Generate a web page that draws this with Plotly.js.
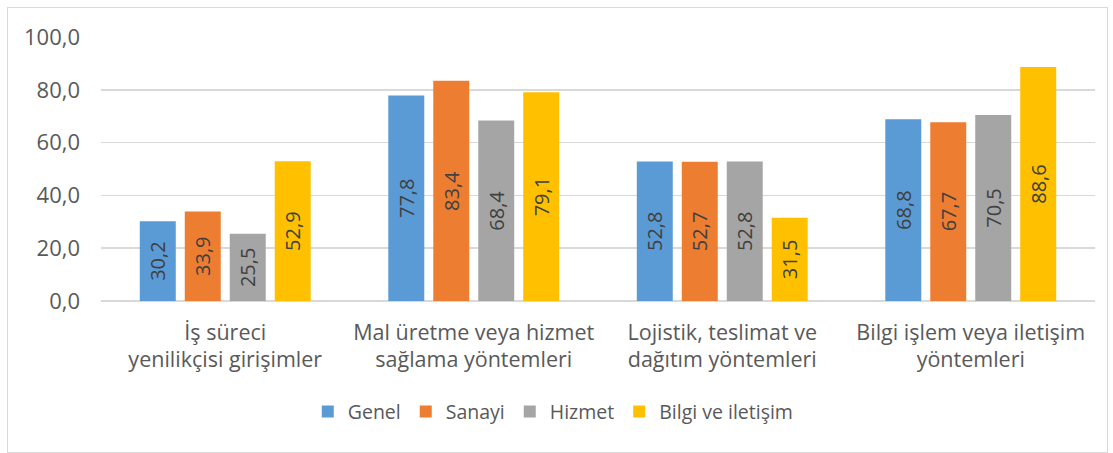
<!DOCTYPE html>
<html>
<head>
<meta charset="utf-8">
<script src="https://cdn.plot.ly/plotly-3.0.1.min.js"></script>
<style>
html,body{margin:0;padding:0;background:#fff;}
#wrap{position:relative;width:1113px;height:453px;}
#chart{position:absolute;left:0;top:0;width:1113px;height:453px;}
#border{position:absolute;left:7px;top:7px;width:1099px;height:444px;border:1px solid #d9d9d9;pointer-events:none;}
</style>
</head>
<body>
<div id="wrap"><div id="chart"></div><div id="border"></div></div>
<script>
var categories = ["İş süreci<br>yenilikçisi girişimler", "Mal üretme veya hizmet<br>sağlama yöntemleri", "Lojistik, teslimat ve<br>dağıtım yöntemleri", "Bilgi işlem veya iletişim<br>yöntemleri"];
var seriesNames = ["Genel", "Sanayi", "Hizmet", "Bilgi ve iletişim"];
var genel = [30.2, 77.8, 52.8, 68.8];
var sanayi = [33.9, 83.4, 52.7, 67.7];
var hizmet = [25.5, 68.4, 52.8, 70.5];
var bilgi = [52.9, 79.1, 31.5, 88.6];
var colors = ["#5B9BD5", "#ED7D31", "#A5A5A5", "#FFC000"];
var values = [genel, sanayi, hizmet, bilgi];

var FONT = "Open Sans, sans-serif";
var traces = values.map(function(v, i){
  return {
    type: "bar", x: categories, y: v, name: seriesNames[i],
    marker: {color: colors[i]},
    texttemplate: "%{y:.1f}", textposition: "inside", textangle: -90,
    insidetextanchor: "middle", constraintext: "none",
    textfont: {family: FONT, size: 20, color: "#404040"},
    hoverinfo: "skip"
  };
});

var layout = {
  width: 1113, height: 453,
  margin: {l: 101, r: 18, t: 37, b: 152},
  separators: ",.",
  barmode: "group", bargap: 0.276, bargroupgap: 0.2,
  paper_bgcolor: "#fff", plot_bgcolor: "#fff",
  font: {family: FONT, size: 20, color: "#595959"},
  xaxis: {tickfont: {family: FONT, size: 21.5, color: "#595959"}, showline: false, ticks: "",
          ticklabelstandoff: 16, automargin: false},
  yaxis: {range: [0, 100], dtick: 20, tickformat: ".1f", gridcolor: "#d9d9d9", gridwidth: 1.5,
          zeroline: true, zerolinecolor: "#d9d9d9", zerolinewidth: 1.5, showline: false,
          ticks: "", ticklen: 0, ticklabelstandoff: 20,
          tickfont: {family: FONT, size: 22, color: "#595959"}, automargin: false},
  showlegend: true,
  legend: {orientation: "h", x: 0.455, xanchor: "center", y: -0.42, yanchor: "middle",
           font: {family: FONT, size: 19.5, color: "#595959"}, traceorder: "normal", itemwidth: 30}
};
Plotly.newPlot("chart", traces, layout, {displayModeBar: false, staticPlot: true});
</script>
</body>
</html>
